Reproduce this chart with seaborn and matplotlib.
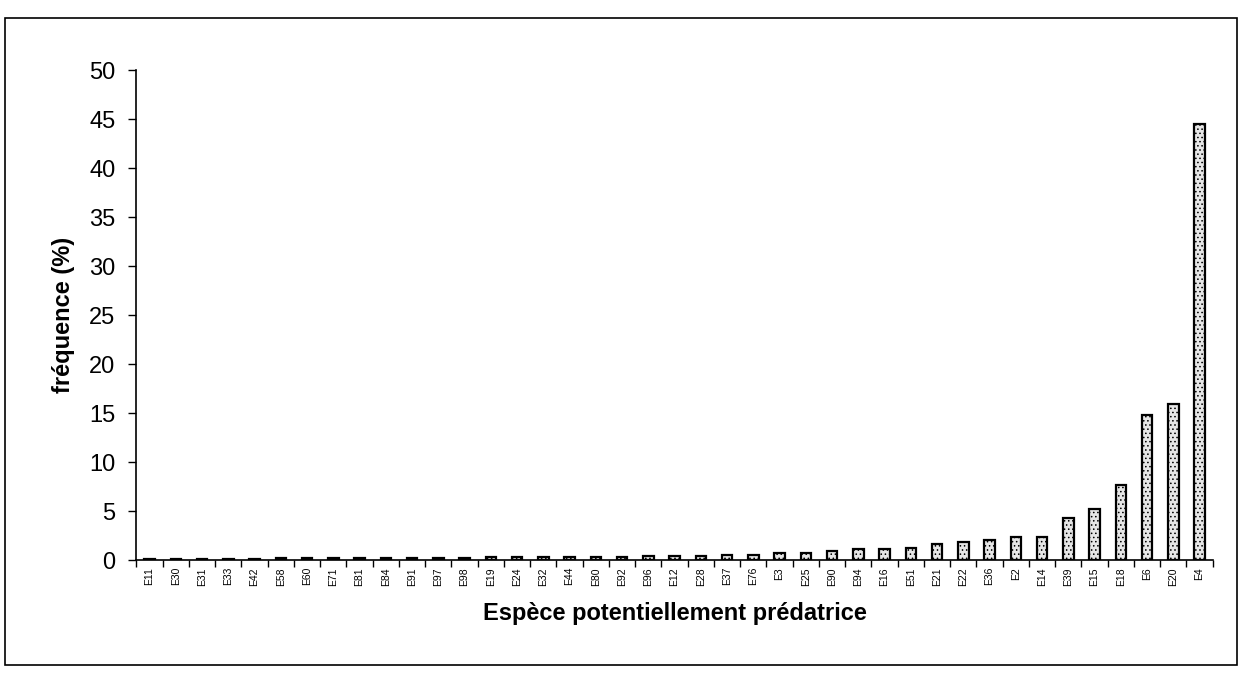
import numpy as np
import pandas as pd
import seaborn as sns
import matplotlib.pyplot as plt
from matplotlib.patches import Rectangle

especes = ['E11', 'E30', 'E31', 'E33', 'E42', 'E58', 'E60', 'E71', 'E81', 'E84',
           'E91', 'E97', 'E98', 'E19', 'E24', 'E32', 'E44', 'E80', 'E92', 'E96',
           'E12', 'E28', 'E37', 'E76', 'E3', 'E25', 'E90', 'E94', 'E16', 'E51',
           'E21', 'E22', 'E36', 'E2', 'E14', 'E39', 'E15', 'E18', 'E6', 'E20', 'E4']
frequence = [0.1, 0.1, 0.15, 0.15, 0.15, 0.2, 0.2, 0.2, 0.2, 0.2,
             0.2, 0.2, 0.25, 0.3, 0.35, 0.35, 0.35, 0.35, 0.35, 0.4,
             0.45, 0.45, 0.5, 0.5, 0.7, 0.75, 0.9, 1.1, 1.1, 1.2,
             1.6, 1.8, 2.0, 2.4, 2.4, 4.3, 5.2, 7.7, 14.8, 15.9, 44.5]

df = pd.DataFrame({'espece': especes, 'freq': frequence})

sns.set_style('white')
plt.rcParams['font.family'] = ['Liberation Sans', 'DejaVu Sans']
plt.rcParams['text.color'] = 'black'
plt.rcParams['axes.labelcolor'] = 'black'
plt.rcParams['xtick.color'] = 'black'
plt.rcParams['ytick.color'] = 'black'
plt.rcParams['hatch.color'] = '#888888'
plt.rcParams['hatch.linewidth'] = 0.6

fig = plt.figure(figsize=(12.4, 6.74), dpi=100)
ax = fig.add_axes([0.110, 0.169, 0.868, 0.727])

sns.barplot(data=df, x='espece', y='freq', order=especes, color='#e6e6e6',
            width=0.4, edgecolor='black', linewidth=1.6, hatch='....',
            saturation=1, ax=ax)

ax.set_ylim(0, 50)
ax.set_xlim(-0.5, len(especes) - 0.5)
ax.set_yticks(np.arange(0, 55, 5))
ax.tick_params(axis='y', labelsize=17, length=6, width=1, direction='out', left=True, pad=9)
ax.tick_params(axis='x', which='major', labelsize=7.5, rotation=90, length=0, pad=5)
ax.set_xticks(np.arange(-0.5, len(especes), 1), minor=True)
ax.tick_params(axis='x', which='minor', length=5, width=1, direction='out', bottom=True)
for s in ['top', 'right']:
    ax.spines[s].set_visible(False)
for s in ['left', 'bottom']:
    ax.spines[s].set_linewidth(1.2)
    ax.spines[s].set_color('black')

ax.set_xlabel('Espèce potentiellement prédatrice', fontsize=17, fontweight='bold')
ax.xaxis.set_label_coords(0.5, -0.11)
ax.xaxis.label.set_va('center')
ax.set_ylabel('fréquence (%)', fontsize=17, fontweight='bold', labelpad=10)

fig.add_artist(Rectangle((5 / 1240, 1 - 665 / 674), 1232 / 1240, 647 / 674,
                         transform=fig.transFigure, fill=False, edgecolor='black', linewidth=1.2))

plt.savefig('out.png', dpi=100)
